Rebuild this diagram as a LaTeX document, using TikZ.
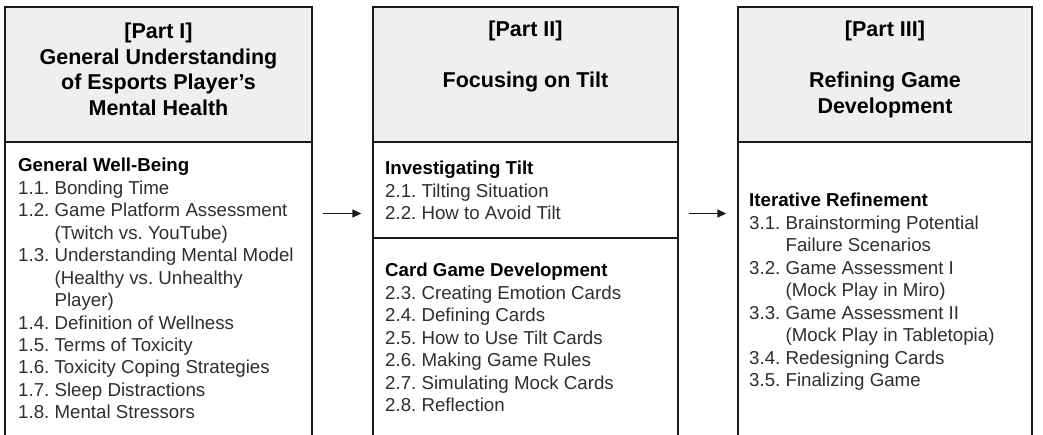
\documentclass[tikz,border=0pt]{standalone}
\usepackage{fontspec}
\setmainfont{Liberation Sans}
\usetikzlibrary{arrows.meta}
\definecolor{hdrfill}{HTML}{EFEFEF}
\definecolor{lineclr}{HTML}{1A1A1A}
\definecolor{itemclr}{HTML}{2E2E2E}
\newcommand\myind{\phantom{0.0.\ }}
\newcommand\mystrut{\rule{0pt}{14pt}}
\newcommand\hstrut{\rule{0pt}{17pt}}
\newcommand\sect[1]{\textcolor{black}{\bfseries #1}}
\frenchspacing
\begin{document}
\frenchspacing
\begin{tikzpicture}[x=1pt,y=-1pt,
  box/.style={draw=lineclr, line width=1.4pt, rectangle, inner sep=0pt},
  hdr/.style={box, fill=hdrfill},
  htext/.style={align=center, inner sep=0pt, anchor=north, text=black,
    font=\fontsize{21.5}{25.5}\selectfont\bfseries\frenchspacing},
  btext/.style={align=left, inner sep=0pt, anchor=north west, text=itemclr,
    font=\fontsize{18.7}{22.45}\selectfont\frenchspacing},
  arr/.style={-{Triangle[length=9pt,width=8pt]}, line width=1.6pt, draw=lineclr}]
\useasboundingbox (0,0) rectangle (1043,434);
% bodies
\node[box, minimum width=307pt, minimum height=298pt] (b1) at (158.5,291) {};
\node[box, minimum width=305pt, minimum height=96pt] (b2a) at (525.5,190) {};
\node[box, minimum width=305pt, minimum height=202pt] (b2b) at (525.5,339) {};
\node[box, minimum width=294pt, minimum height=298pt] (b3) at (885,291) {};
% headers
\node[hdr, minimum width=307pt, minimum height=135pt] (h1) at (158.5,74.5) {};
\node[hdr, minimum width=305pt, minimum height=135pt] (h2) at (525.5,74.5) {};
\node[hdr, minimum width=294pt, minimum height=135pt] (h3) at (885,74.5) {};
% header texts
\node[htext] (h1t) at (158.5,21.4) {\hstrut[Part I]\\General Understanding\\of Esports Player’s\\Mental Health};
\node[htext] (h2t) at (525.5,19.7) {\hstrut[Part II]\\[25.5pt]Focusing on Tilt};
\node[htext] (h3t) at (885,19.7) {\hstrut[Part III]\\[25.5pt]Refining Game\\Development};
% body texts
\node[btext] (t1) at (18,157.7) {\mystrut\sect{General Well-Being}\\
1.1. Bonding Time\\
1.2. Game Platform Assessment\\
\myind(Twitch vs. YouTube)\\
1.3. Understanding Mental Model\\
\myind(Healthy vs. Unhealthy\\
\myind Player)\\
1.4. Definition of Wellness\\
1.5. Terms of Toxicity\\
1.6. Toxicity Coping Strategies\\
1.7. Sleep Distractions\\
1.8. Mental Stressors};
\node[btext] (t2a) at (385,160.7) {\mystrut\sect{Investigating Tilt}\\
2.1. Tilting Situation\\
2.2. How to Avoid Tilt};
\node[btext] (t2b) at (385,262.7) {\mystrut\sect{Card Game Development}\\
2.3. Creating Emotion Cards\\
2.4. Defining Cards\\
2.5. How to Use Tilt Cards\\
2.6. Making Game Rules\\
2.7. Simulating Mock Cards\\
2.8. Reflection};
\node[btext] (t3) at (749,192.7) {\mystrut\sect{Iterative Refinement}\\
3.1. Brainstorming Potential\\
\myind Failure Scenarios\\
3.2. Game Assessment I\\
\myind(Mock Play in Miro)\\
3.3. Game Assessment II\\
\myind(Mock Play in Tabletopia)\\
3.4. Redesigning Cards\\
3.5. Finalizing Game};
% arrows
\coordinate (ay) at (0,213.5);
\draw[arr, shorten <=10pt, shorten >=11pt] (b1.east |- ay) -- (b2a.west |- ay);
\draw[arr, shorten <=10pt, shorten >=11pt] (b2a.east |- ay) -- (b3.west |- ay);
\end{tikzpicture}
\end{document}
